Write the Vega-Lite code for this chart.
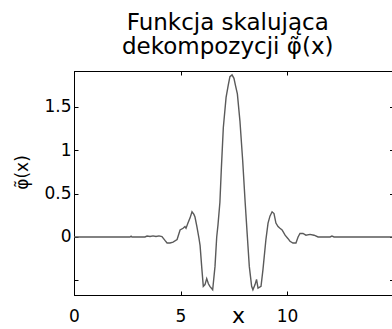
{
  "$schema": "https://vega.github.io/schema/vega-lite/v6.json",
  "autosize": {"type": "none"},
  "padding": {"left": 74, "top": 71, "right": 2, "bottom": 34},
  "width": 319.5,
  "height": 224,
  "background": "white",
  "title": {
    "text": ["Funkcja skalująca", "dekompozycji φ̃(x)"],
    "font": "DejaVu Sans",
    "fontSize": 23,
    "fontWeight": "normal",
    "color": "black",
    "lineHeight": 24,
    "offset": 12,
    "dx": -6
  },
  "config": {
    "view": {"stroke": "black", "strokeWidth": 1},
    "axis": {
      "grid": false,
      "domainColor": "black",
      "tickColor": "black",
      "labelColor": "black",
      "titleColor": "black",
      "labelFont": "DejaVu Sans",
      "titleFont": "DejaVu Sans",
      "labelFontSize": 17,
      "titleFontSize": 17,
      "titleFontWeight": "normal",
      "tickSize": -4
    }
  },
  "data": {
    "values": [
      {"x": 0, "y": 0}, {"x": 2.63, "y": 0}, {"x": 2.68, "y": 0.01}, {"x": 2.72, "y": 0},
      {"x": 3.33, "y": 0}, {"x": 3.43, "y": 0.01}, {"x": 3.57, "y": 0.005}, {"x": 3.71, "y": 0.012},
      {"x": 3.85, "y": 0.005}, {"x": 3.99, "y": 0.012}, {"x": 4.13, "y": 0.005}, {"x": 4.27, "y": -0.04},
      {"x": 4.37, "y": -0.07}, {"x": 4.51, "y": -0.07}, {"x": 4.65, "y": -0.06}, {"x": 4.84, "y": -0.03},
      {"x": 4.98, "y": 0.08}, {"x": 5.12, "y": 0.1}, {"x": 5.21, "y": 0.12}, {"x": 5.26, "y": 0.1},
      {"x": 5.35, "y": 0.16}, {"x": 5.45, "y": 0.22}, {"x": 5.54, "y": 0.29}, {"x": 5.63, "y": 0.26},
      {"x": 5.68, "y": 0.23}, {"x": 5.77, "y": 0.12}, {"x": 5.87, "y": -0.02}, {"x": 5.92, "y": -0.1},
      {"x": 6.0, "y": -0.36}, {"x": 6.07, "y": -0.57}, {"x": 6.15, "y": -0.55}, {"x": 6.23, "y": -0.48},
      {"x": 6.31, "y": -0.54}, {"x": 6.38, "y": -0.57}, {"x": 6.51, "y": -0.61}, {"x": 6.62, "y": -0.34},
      {"x": 6.7, "y": 0}, {"x": 6.76, "y": 0.14}, {"x": 6.85, "y": 0.4}, {"x": 6.92, "y": 0.8},
      {"x": 7.01, "y": 1.26}, {"x": 7.14, "y": 1.61}, {"x": 7.24, "y": 1.75}, {"x": 7.32, "y": 1.85},
      {"x": 7.42, "y": 1.87}, {"x": 7.51, "y": 1.83}, {"x": 7.58, "y": 1.75}, {"x": 7.67, "y": 1.65},
      {"x": 7.79, "y": 1.34}, {"x": 7.92, "y": 0.88}, {"x": 8.03, "y": 0.42}, {"x": 8.14, "y": 0},
      {"x": 8.23, "y": -0.34}, {"x": 8.34, "y": -0.57}, {"x": 8.4, "y": -0.61}, {"x": 8.5, "y": -0.55},
      {"x": 8.57, "y": -0.49}, {"x": 8.64, "y": -0.59}, {"x": 8.78, "y": -0.57}, {"x": 8.87, "y": -0.38},
      {"x": 9.01, "y": -0.03}, {"x": 9.11, "y": 0.16}, {"x": 9.2, "y": 0.24}, {"x": 9.3, "y": 0.29},
      {"x": 9.39, "y": 0.27}, {"x": 9.48, "y": 0.16}, {"x": 9.58, "y": 0.12}, {"x": 9.67, "y": 0.1},
      {"x": 9.77, "y": 0.08}, {"x": 9.91, "y": 0.02}, {"x": 10.05, "y": -0.02}, {"x": 10.14, "y": -0.05},
      {"x": 10.28, "y": -0.07}, {"x": 10.42, "y": -0.07}, {"x": 10.52, "y": 0}, {"x": 10.61, "y": 0.04},
      {"x": 10.75, "y": 0.04}, {"x": 10.89, "y": 0.02}, {"x": 11.08, "y": 0.03}, {"x": 11.27, "y": 0.02},
      {"x": 11.46, "y": 0}, {"x": 12.02, "y": 0}, {"x": 12.11, "y": 0.01}, {"x": 12.21, "y": 0},
      {"x": 15, "y": 0}
    ]
  },
  "layer": [
    {
      "mark": {"type": "line", "color": "#5a5a5a", "strokeWidth": 1.4},
      "encoding": {
        "x": {
          "field": "x", "type": "quantitative",
          "scale": {"domain": [0, 15], "nice": false, "zero": false},
          "axis": {
            "values": [0, 5, 10],
            "format": "~g",
            "title": "x",
            "titleFontSize": 22,
            "titleX": 164,
            "titleY": 27,
            "titleBaseline": "alphabetic",
            "titleAlign": "center",
            "labelPadding": 25,
            "labelBaseline": "middle",
            "labelFlush": false
          }
        },
        "y": {
          "field": "y", "type": "quantitative",
          "scale": {"domain": [-0.67, 1.915], "nice": false, "zero": false},
          "axis": {
            "values": [-0.5, 0, 0.5, 1, 1.5],
            "format": "~g",
            "labelExpr": "datum.value == -0.5 ? '' : datum.label",
            "title": "φ̃(x)",
            "titleX": -52,
            "titleY": 101,
            "titleAngle": -90,
            "titleAlign": "center",
            "titleBaseline": "middle",
            "labelPadding": 7,
            "labelFlush": false
          }
        }
      }
    },
    {
      "mark": {"type": "line", "opacity": 0},
      "encoding": {
        "x": {
          "field": "x", "type": "quantitative",
          "scale": {"domain": [0, 15], "nice": false, "zero": false},
          "axis": {"orient": "top", "values": [0, 5, 10], "labels": false, "title": null}
        },
        "y": {
          "field": "y", "type": "quantitative",
          "scale": {"domain": [-0.67, 1.915], "nice": false, "zero": false},
          "axis": {"orient": "right", "values": [-0.5, 0, 0.5, 1, 1.5], "labels": false, "title": null}
        }
      }
    }
  ],
  "resolve": {"axis": {"x": "independent", "y": "independent"}}
}
